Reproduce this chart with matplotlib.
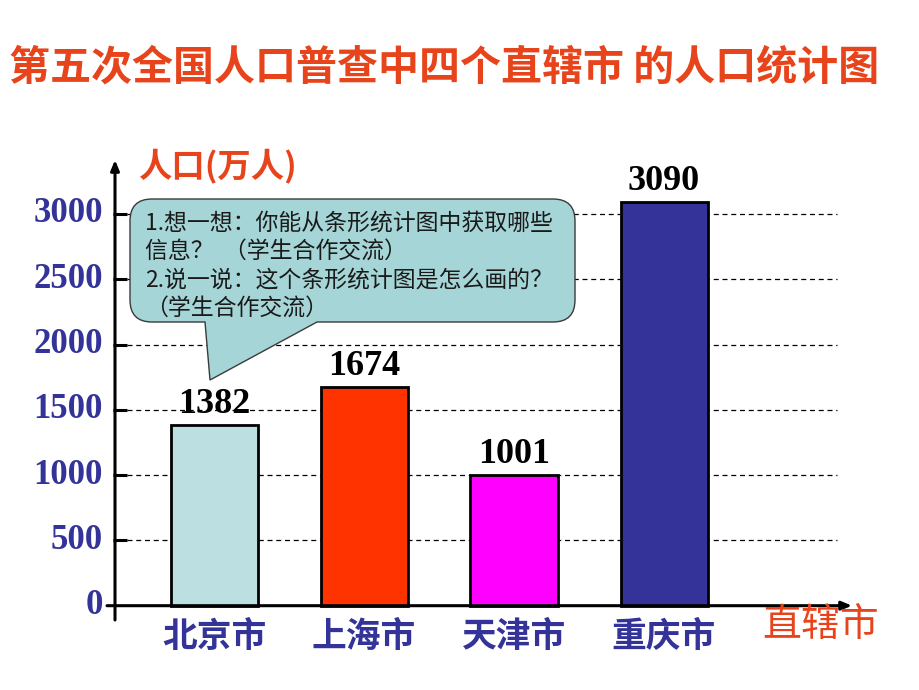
""" bar chart of the four municipality populations (5th census) """

import matplotlib
matplotlib.use("Agg")
import matplotlib.pyplot
import matplotlib.path
import matplotlib.patches
import matplotlib.transforms

CITIES = ["北京市", "上海市", "天津市", "重庆市"]
POPULATION = [1382, 1674, 1001, 3090]
YTICKS = [0, 500, 1000, 1500, 2000, 2500, 3000]
BAR_COLORS = ["#BCE0E2", "#FF3300", "#FF00FF", "#333399"]

TITLE = "第五次全国人口普查中四个直辖市 的人口统计图"
YLABEL = "人口(万人)"
XLABEL = "直辖市"
NOTE = ["1.想一想：你能从条形统计图中获取哪些",
        "信息？  （学生合作交流）",
        "2.说一说：这个条形统计图是怎么画的？",
        "（学生合作交流）"]

CJK = ["Noto Sans CJK SC", "DejaVu Sans"]
SERIF = ["Liberation Serif", "DejaVu Serif"]
RED = "#E8441C"
NAVY = "#333399"

W, H = 920, 690
# layout: pixel position of the first bar centre, bar spacing, y origin, pixels per unit
X0, DX = 214.0, 150.0
Y0, SY = 605.7, 65.3 / 500.0


def dx(p):
    return (p - X0) / DX


def dy(p):
    return (Y0 - p) / SY


def main():
    fig = matplotlib.pyplot.figure(figsize=(W / 100, H / 100), dpi=100)
    ax = fig.add_axes([0, 0, 1, 1])
    ax.set_xlim(dx(0), dx(W))
    ax.set_ylim(dy(H), dy(0))
    ax.axis("off")

    xs = range(len(CITIES))

    # dashed grid behind everything
    ax.hlines(YTICKS[1:], dx(127), dx(837), colors="black", linestyles=(0, (4, 3)),
              linewidth=0.9, zorder=1)
    # tick marks
    ax.hlines(YTICKS[1:], dx(113), dx(127), colors="black", linewidth=2.2, zorder=3)

    bars = ax.bar(xs, POPULATION, 0.58, color=BAR_COLORS, edgecolor="black",
                  linewidth=2.0, zorder=2)

    for b, v in zip(bars, POPULATION):
        ax.text(b.get_x() + b.get_width() / 2, v + 30, str(v), ha="center", va="bottom",
                fontsize=26, fontweight="bold", family=SERIF, color="black", zorder=4)

    for t in YTICKS:
        ax.text(dx(103), t, str(t), ha="right", va="center", fontsize=25,
                fontweight="bold", family=SERIF, color=NAVY)

    for x, c in zip(xs, CITIES):
        ax.text(x, dy(636), c, ha="center", va="center", fontsize=25,
                fontweight="bold", family=CJK, color=NAVY)

    # axes with arrow heads
    arrow = dict(arrowstyle="-|>,head_length=0.6,head_width=0.25", color="black",
                 linewidth=2.2, shrinkA=0, shrinkB=0)
    ax.annotate("", xy=(dx(852), 0), xytext=(dx(107), 0), arrowprops=arrow, zorder=3)
    ax.annotate("", xy=(dx(115), dy(160)), xytext=(dx(115), dy(620)), arrowprops=arrow,
                zorder=3)

    ax.text(dx(138), dy(166), YLABEL, ha="left", va="center", fontsize=24,
            fontweight="bold", family=CJK, color=RED)
    ax.text(dx(762), dy(625), XLABEL, ha="left", va="center", fontsize=28,
            family=CJK, color=RED)

    fig.text(444 / W, 1 - 68 / H, TITLE, ha="center", va="center", fontsize=29.5,
             fontweight="bold", family=CJK, color=RED)

    # speech bubble
    L, R, T, B, r = 130, 575, 199, 322, 22
    verts = [(L + r, T), (R - r, T), (R, T), (R, T + r), (R, B - r), (R, B), (R - r, B),
             (317, B), (210, 380), (205, B), (L + r, B), (L, B), (L, B - r),
             (L, T + r), (L, T), (L + r, T), (L + r, T)]
    P = matplotlib.path.Path
    codes = [P.MOVETO, P.LINETO, P.CURVE3, P.CURVE3, P.LINETO, P.CURVE3, P.CURVE3,
             P.LINETO, P.LINETO, P.LINETO, P.LINETO, P.CURVE3, P.CURVE3,
             P.LINETO, P.CURVE3, P.CURVE3, P.CLOSEPOLY]
    pix = matplotlib.transforms.Affine2D().scale(1 / W, -1 / H).translate(0, 1) + fig.transFigure
    bubble = matplotlib.patches.PathPatch(P(verts, codes), facecolor="#A6D5D7",
                                          edgecolor="#3a3a3a", linewidth=1.0,
                                          transform=pix, zorder=5)
    fig.add_artist(bubble)
    for i, line in enumerate(NOTE):
        fig.text(145 / W, 1 - (223 + 28.5 * i) / H, line, ha="left", va="center",
                 fontsize=16.5, family=CJK, color="#1a1a1a", zorder=6)

    matplotlib.pyplot.savefig("out.png", dpi=100)
    matplotlib.pyplot.close()


if __name__ == "__main__":
    main()
